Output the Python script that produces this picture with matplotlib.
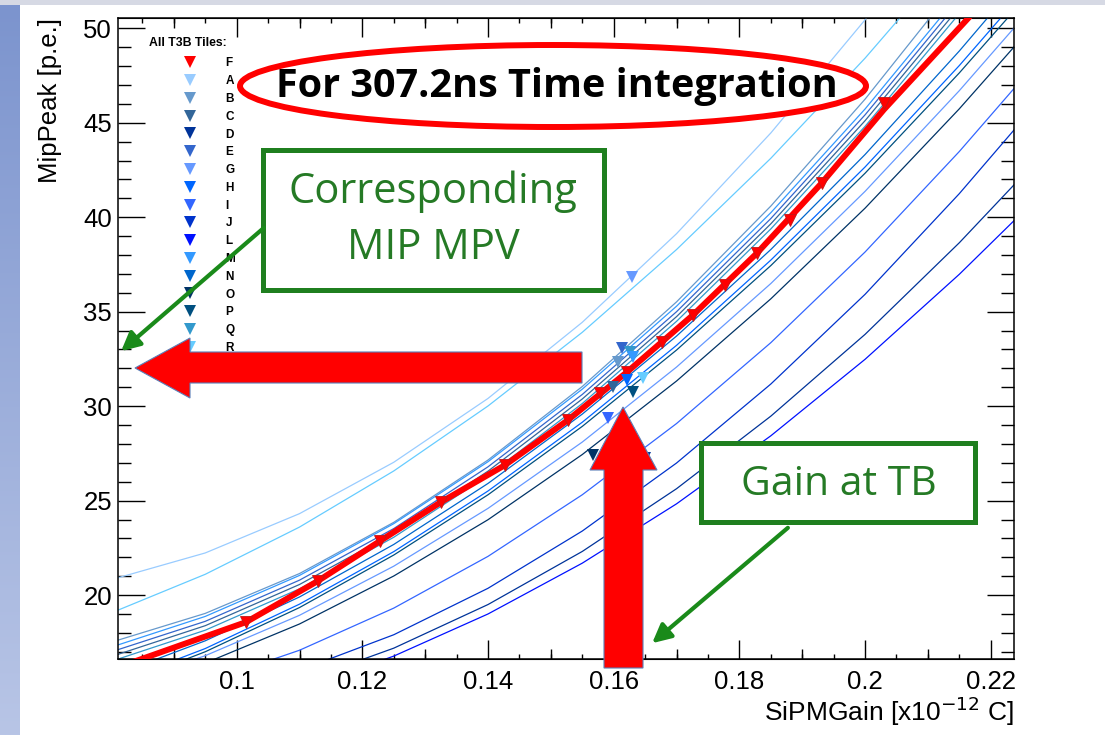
import numpy as np
import matplotlib
matplotlib.use("Agg")
import matplotlib.pyplot as plt
from matplotlib.patches import Ellipse, Rectangle, Polygon, FancyArrowPatch
from matplotlib.ticker import MultipleLocator, FormatStrFormatter
from matplotlib.lines import Line2D

W, H = 1105, 735

# tile F (red): scan points and line
f_gain = [0.1015, 0.1129, 0.1228, 0.1325, 0.1427, 0.1527, 0.1578, 0.1621,
          0.1677, 0.1726, 0.1777, 0.1828, 0.1880, 0.1931, 0.2030]
f_peak = [18.57, 20.74, 22.86, 24.92, 26.88, 29.26, 30.69, 31.80,
          33.39, 34.82, 36.41, 38.10, 39.85, 41.81, 46.05]
f_line_gain = [0.0800, 0.0849, 0.1015, 0.1129, 0.1228, 0.1325, 0.1427, 0.1527,
               0.1621, 0.1726, 0.1828, 0.1931, 0.2030, 0.2164, 0.2250]
f_line_peak = [16.05, 16.62, 18.57, 20.74, 22.86, 24.92, 26.88, 29.26,
               31.80, 34.82, 38.10, 41.81, 45.70, 50.53, 53.80]

# other tiles: response curves read at fixed gains
curve_gain = [0.080, 0.095, 0.110, 0.125, 0.140, 0.155, 0.170, 0.185,
              0.200, 0.215, 0.225]
curves = {
    "A": [20.81, 22.23, 24.31, 27.03, 30.41, 34.44, 39.13, 44.46, 50.45, 57.10, 61.90],
    "R": [19.05, 21.10, 23.60, 26.57, 30.01, 33.91, 38.29, 43.12, 48.42, 54.19, 58.29],
    "B": [17.50, 19.03, 21.14, 23.85, 27.15, 31.04, 35.52, 40.59, 46.25, 52.51, 57.00],
    "M": [17.24, 18.87, 21.04, 23.78, 27.06, 30.90, 35.29, 40.24, 45.73, 51.78, 56.13],
    "E": [16.99, 18.61, 20.79, 23.52, 26.79, 30.62, 35.00, 39.93, 45.42, 51.45, 55.78],
    "C": [16.74, 18.38, 20.56, 23.29, 26.56, 30.38, 34.74, 39.65, 45.11, 51.11, 55.41],
    "Q": [16.49, 18.14, 20.33, 23.06, 26.33, 30.14, 34.49, 39.38, 44.81, 50.78, 55.06],
    "N": [15.70, 17.58, 19.90, 22.68, 25.91, 29.58, 33.71, 38.29, 43.32, 48.80, 52.70],
    "H": [15.26, 17.17, 19.52, 22.30, 25.51, 29.15, 33.22, 37.73, 42.66, 48.03, 51.85],
    "P": [15.07, 17.00, 19.34, 22.12, 25.31, 28.93, 32.97, 37.44, 42.33, 47.64, 51.42],
    "G": [15.09, 16.79, 18.93, 21.53, 24.59, 28.10, 32.07, 36.49, 41.37, 46.70, 50.51],
    "O": [14.77, 16.40, 18.47, 21.01, 23.99, 27.44, 31.33, 35.68, 40.48, 45.74, 49.50],
    "I": [14.17, 15.37, 17.08, 19.31, 22.05, 25.31, 29.08, 33.36, 38.16, 43.48, 47.31],
    "J": [13.98, 14.71, 16.02, 17.90, 20.36, 23.39, 26.99, 31.17, 35.92, 41.25, 45.12],
    "D": [13.31, 14.10, 15.39, 17.19, 19.50, 22.31, 25.63, 29.47, 33.80, 38.65, 42.17],
    "L": [12.78, 13.66, 14.99, 16.77, 19.00, 21.69, 24.83, 28.43, 32.48, 36.98, 40.24],
}

# tiles at test-beam gain
tb_tile = ["G", "E", "Q", "B", "M", "H", "R", "C", "P", "I", "O", "D"]
tb_gain = [0.1629, 0.1613, 0.1626, 0.1607, 0.1631, 0.1621, 0.1647, 0.1599,
           0.1631, 0.1591, 0.1567, 0.1650]
tb_peak = [36.83, 33.06, 32.88, 32.35, 32.60, 31.38, 31.49, 31.03,
           30.76, 29.37, 27.41, 27.25]

legend_tiles = ["F", "A", "B", "C", "D", "E", "G", "H", "I", "J", "L",
                "M", "N", "O", "P", "Q", "R"]
tile_colors = {
    "F": "#ff0000", "A": "#99ccff", "B": "#6699cc", "C": "#336699",
    "D": "#003399", "E": "#3366cc", "G": "#6699ff", "H": "#0066ff",
    "I": "#3366ff", "J": "#0033cc", "L": "#0011ff", "M": "#3399ff",
    "N": "#0066cc", "O": "#003366", "P": "#005080", "Q": "#3399cc",
    "R": "#66ccff",
}

plt.rcParams["font.family"] = ["Liberation Sans", "DejaVu Sans"]

fig = plt.figure(figsize=(W / 100, H / 100), dpi=100)
ax = fig.add_axes([118.3 / W, 1 - 659.3 / H, (1014 - 118.3) / W, (659.3 - 18.3) / H])

for name, peaks in curves.items():
    ax.plot(curve_gain, peaks, color=tile_colors[name], lw=0.9, zorder=2)

ax.plot(f_line_gain, f_line_peak, color="#ff0000", lw=4.3, zorder=3,
        solid_capstyle="butt")
ax.plot(f_gain, f_peak, "v", color="#ff0000", ms=9, mec="#c01818", mew=0.6,
        zorder=4)
for t, g, p in zip(tb_tile, tb_gain, tb_peak):
    ax.plot(g, p, "v", color=tile_colors[t], ms=9, mew=0, zorder=5)

ax.set_xlim(0.08116, 0.2237)
ax.set_ylim(16.6, 50.53)

ax.xaxis.set_major_locator(MultipleLocator(0.02))
ax.xaxis.set_minor_locator(MultipleLocator(0.005))
ax.xaxis.set_major_formatter(FormatStrFormatter("%g"))
ax.yaxis.set_major_locator(MultipleLocator(5))
ax.yaxis.set_minor_locator(MultipleLocator(1))
ax.tick_params(axis="both", which="both", direction="in", top=True, right=True,
               width=1.0, labelsize=18.5)
ax.tick_params(axis="x", which="major", length=13.7, pad=8.0)
ax.tick_params(axis="x", which="minor", length=3.5)
ax.tick_params(axis="y", which="major", length=19.4, pad=4.5)
ax.tick_params(axis="y", which="minor", length=9.7)
for s in ax.spines.values():
    s.set_linewidth(1.1)

# medium ticks every 0.01
for loc in ("bottom", "top"):
    sec = ax.secondary_xaxis(loc)
    sec.set_xticks(np.arange(0.09, 0.23, 0.02))
    sec.tick_params(direction="in", length=6.9, width=1.0,
                    labelbottom=False, labeltop=False)

ax.set_xlabel("SiPMGain [x10$^{-12}$ C]", fontsize=19, ha="right", va="top")
ax.xaxis.set_label_coords(1.0, -(695 - 659.3) / 641)
ax.set_ylabel("MipPeak [p.e.]", fontsize=18.5, ha="right", va="bottom")
ax.yaxis.set_label_coords((62 - 118.3) / 895.7, 1.0)

handles = [Line2D([], [], ls="none", marker="v", ms=9, mew=0,
                  color=tile_colors[t]) for t in legend_tiles]
leg = ax.legend(handles, legend_tiles, loc="upper left",
                bbox_to_anchor=(176 / W, 1 - 51.5 / H),
                bbox_transform=fig.transFigure, frameon=False,
                prop={"weight": "bold", "size": 8.5}, borderpad=0,
                handlelength=1.4, handletextpad=2.3, labelspacing=0.49)
ax.text((149 - 118.3) / 895.7, 1 - (43 - 18.3) / 641, "All T3B Tiles:",
        transform=ax.transAxes, fontsize=8.8, fontweight="bold",
        ha="left", va="center")

# slide overlay in pixel coordinates
ov = fig.add_axes([0, 0, 1, 1], zorder=10)
ov.patch.set_alpha(0)
ov.axis("off")

grad = np.linspace(0, 1, 256).reshape(-1, 1)
top_c = np.array([0x7c, 0x94, 0xce]) / 255
bot_c = np.array([0xb8, 0xc5, 0xe6]) / 255
img = top_c + grad[:, :, None] * (bot_c - top_c)
ov.imshow(img, extent=(0, 20, 735, 5), aspect="auto", zorder=0)
ov.add_patch(Rectangle((0, 0), W, 5, color="#d6d9e4", lw=0))

ov.add_patch(Ellipse((553, 86), 626, 82, facecolor="white",
                     edgecolor="#ff0000", lw=4.3))
ov.text(557, 86, "For 307.2ns Time integration", fontsize=28.5,
        fontweight="bold", family="Open Sans", ha="center", va="center")

green = "#1f7f1f"
ov.add_patch(Rectangle((263, 150), 341, 140, facecolor="white",
                       edgecolor=green, lw=3.6))
ov.text(433, 192, "Corresponding", fontsize=30, family="Open Sans",
        color="#257a25", ha="center", va="center")
ov.text(433, 248, "MIP MPV", fontsize=30, family="Open Sans",
        color="#257a25", ha="center", va="center")
ov.add_patch(Rectangle((701, 443), 274, 79, facecolor="white",
                       edgecolor=green, lw=3.6))
ov.text(839, 485, "Gain at TB", fontsize=29.5, family="Open Sans",
        color="#257a25", ha="center", va="center")

for tail, tip in (((266, 226), (119, 353)), ((790, 526), (650, 645))):
    ov.add_patch(FancyArrowPatch(tail, tip, arrowstyle="-|>",
                                 mutation_scale=28, lw=3, color="#1a8a1a"))

left_arrow = [(582, 352), (190, 352), (190, 338), (135, 368), (190, 398),
              (190, 383), (582, 383)]
up_arrow = [(604, 668), (604, 470), (590, 470), (623, 407), (657, 470),
            (643, 470), (643, 668)]
for pts in (left_arrow, up_arrow):
    ov.add_patch(Polygon(pts, closed=True, facecolor="#ff0000",
                         edgecolor="#5a7fb8", lw=0.8))

ov.set_xlim(0, W)
ov.set_ylim(H, 0)

fig.savefig("out.png", dpi=100)
